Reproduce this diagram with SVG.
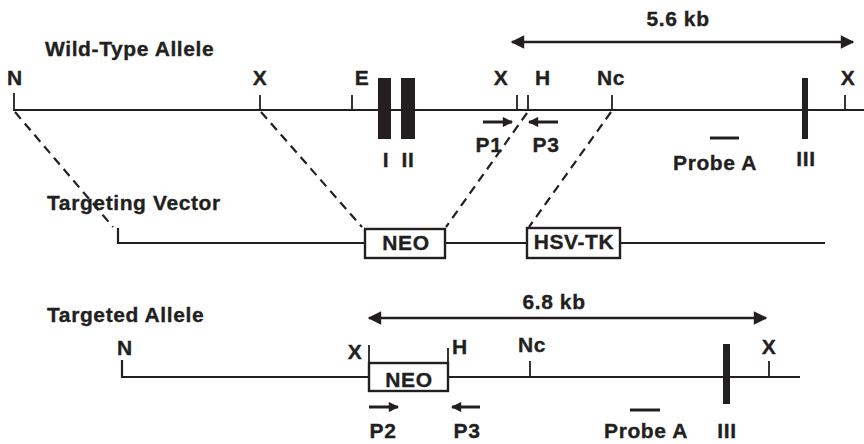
<svg xmlns="http://www.w3.org/2000/svg" width="864" height="444" viewBox="0 0 864 444">
<defs>
<style>
text{font-family:"Liberation Sans",Arial,sans-serif;font-weight:bold;font-size:21px;fill:#231f20;stroke:#231f20;stroke-width:0.35px;letter-spacing:0.6px}
.m{text-anchor:middle}
.ln{stroke:#231f20;stroke-width:2.2;fill:none}
.tk{stroke:#231f20;stroke-width:1.8;fill:none}
.box{stroke:#231f20;stroke-width:2.4;fill:#fff}
.ex{fill:#231f20}
.dash{stroke:#231f20;stroke-width:2.2;fill:none;stroke-dasharray:9 6}
.dim{stroke:#231f20;stroke-width:2.6;fill:none}
.pr{stroke:#231f20;stroke-width:3;fill:none}
</style>
<marker id="ah" viewBox="0 0 10 10" refX="9" refY="5" markerWidth="6" markerHeight="5.2" orient="auto-start-reverse" markerUnits="strokeWidth">
<path d="M0,0 L10,5 L0,10 z" fill="#231f20"/>
</marker>
<marker id="sh" viewBox="0 0 10 10" refX="9" refY="5" markerWidth="3.8" markerHeight="3.4" orient="auto" markerUnits="strokeWidth">
<path d="M0,0 L10,5 L0,10 z" fill="#231f20"/>
</marker>
</defs>

<g id="wild-type">
<text x="45" y="56">Wild-Type Allele</text>
<line class="ln" x1="13" y1="110" x2="864" y2="110"/>
<path class="tk" d="M14,93V110 M260,95V110 M352,95V110 M517,95V110 M528,95V110 M612,95V110 M845,95V110"/>
<text class="m" x="15" y="85">N</text>
<text class="m" x="260" y="85">X</text>
<text class="m" x="362" y="85">E</text>
<text class="m" x="501" y="85">X</text>
<text class="m" x="543" y="85">H</text>
<text class="m" x="611" y="85">Nc</text>
<text class="m" x="848" y="85">X</text>
<rect class="ex" x="378" y="78" width="13" height="61"/>
<rect class="ex" x="401" y="78" width="14" height="61"/>
<rect class="ex" x="802" y="78" width="6" height="61"/>
<text class="m" x="386" y="167">I</text>
<text class="m" x="408" y="167">II</text>
<text class="m" x="806" y="166">III</text>
<line class="pr" x1="710" y1="138" x2="739" y2="138" stroke-width="4"/>
<text class="m" x="715" y="170">Probe A</text>
<text class="m" x="489" y="152">P1</text>
<text class="m" x="546" y="152">P3</text>
</g>

<g id="targeting-vector">
<text x="47" y="210">Targeting Vector</text>
<path class="ln" d="M118,228V243H365 M445,243H527 M620,243H825"/>
<g id="neo-vector">
<rect class="box" x="365" y="229" width="80" height="29"/>
<text class="m" x="406" y="250">NEO</text>
</g>
<g id="hsv-tk">
<rect class="box" x="527" y="228" width="93" height="30"/>
<text class="m" x="574" y="249">HSV-TK</text>
</g>
</g>

<g id="targeted-allele">
<text x="47" y="322">Targeted Allele</text>
<path class="ln" d="M122,360V377H369 M448,377H800"/>
<g id="neo-targeted">
<rect class="box" x="369" y="363" width="79" height="28"/>
<text class="m" x="409" y="387">NEO</text>
</g>
<path class="tk" d="M369,345V363 M448,348V363 M530,361V377 M769,361V377"/>
<text class="m" x="125" y="355">N</text>
<text class="m" x="355" y="359">X</text>
<text class="m" x="460" y="354">H</text>
<text class="m" x="532" y="352">Nc</text>
<text class="m" x="769" y="354">X</text>
<rect class="ex" x="723" y="344" width="7" height="60"/>
<text class="m" x="727" y="438">III</text>
<line class="pr" x1="630" y1="410" x2="660" y2="410" stroke-width="4"/>
<text class="m" x="646" y="438">Probe A</text>
<text class="m" x="383" y="438">P2</text>
<text class="m" x="467" y="438">P3</text>
<text class="m" x="554" y="309">6.8 kb</text>
</g>

<g id="connectors">
<line class="dash" x1="15" y1="112" x2="113" y2="227"/>
<line class="dash" x1="261" y1="112" x2="362" y2="227"/>
<line class="dash" x1="527" y1="113" x2="446" y2="227"/>
<line class="dash" x1="611" y1="112" x2="529" y2="227"/>
<text class="m" x="678" y="26">5.6 kb</text>
<line class="dim" x1="512" y1="42" x2="853" y2="42" marker-start="url(#ah)" marker-end="url(#ah)"/>
<line class="dim" x1="369" y1="318" x2="766" y2="318" marker-start="url(#ah)" marker-end="url(#ah)"/>
<line class="pr" x1="483" y1="122" x2="512" y2="122" marker-end="url(#sh)"/>
<line class="pr" x1="558" y1="122" x2="529" y2="122" marker-end="url(#sh)"/>
<line class="pr" x1="369" y1="407" x2="398" y2="407" marker-end="url(#sh)"/>
<line class="pr" x1="480" y1="407" x2="452" y2="407" marker-end="url(#sh)"/>
</g>
</svg>
